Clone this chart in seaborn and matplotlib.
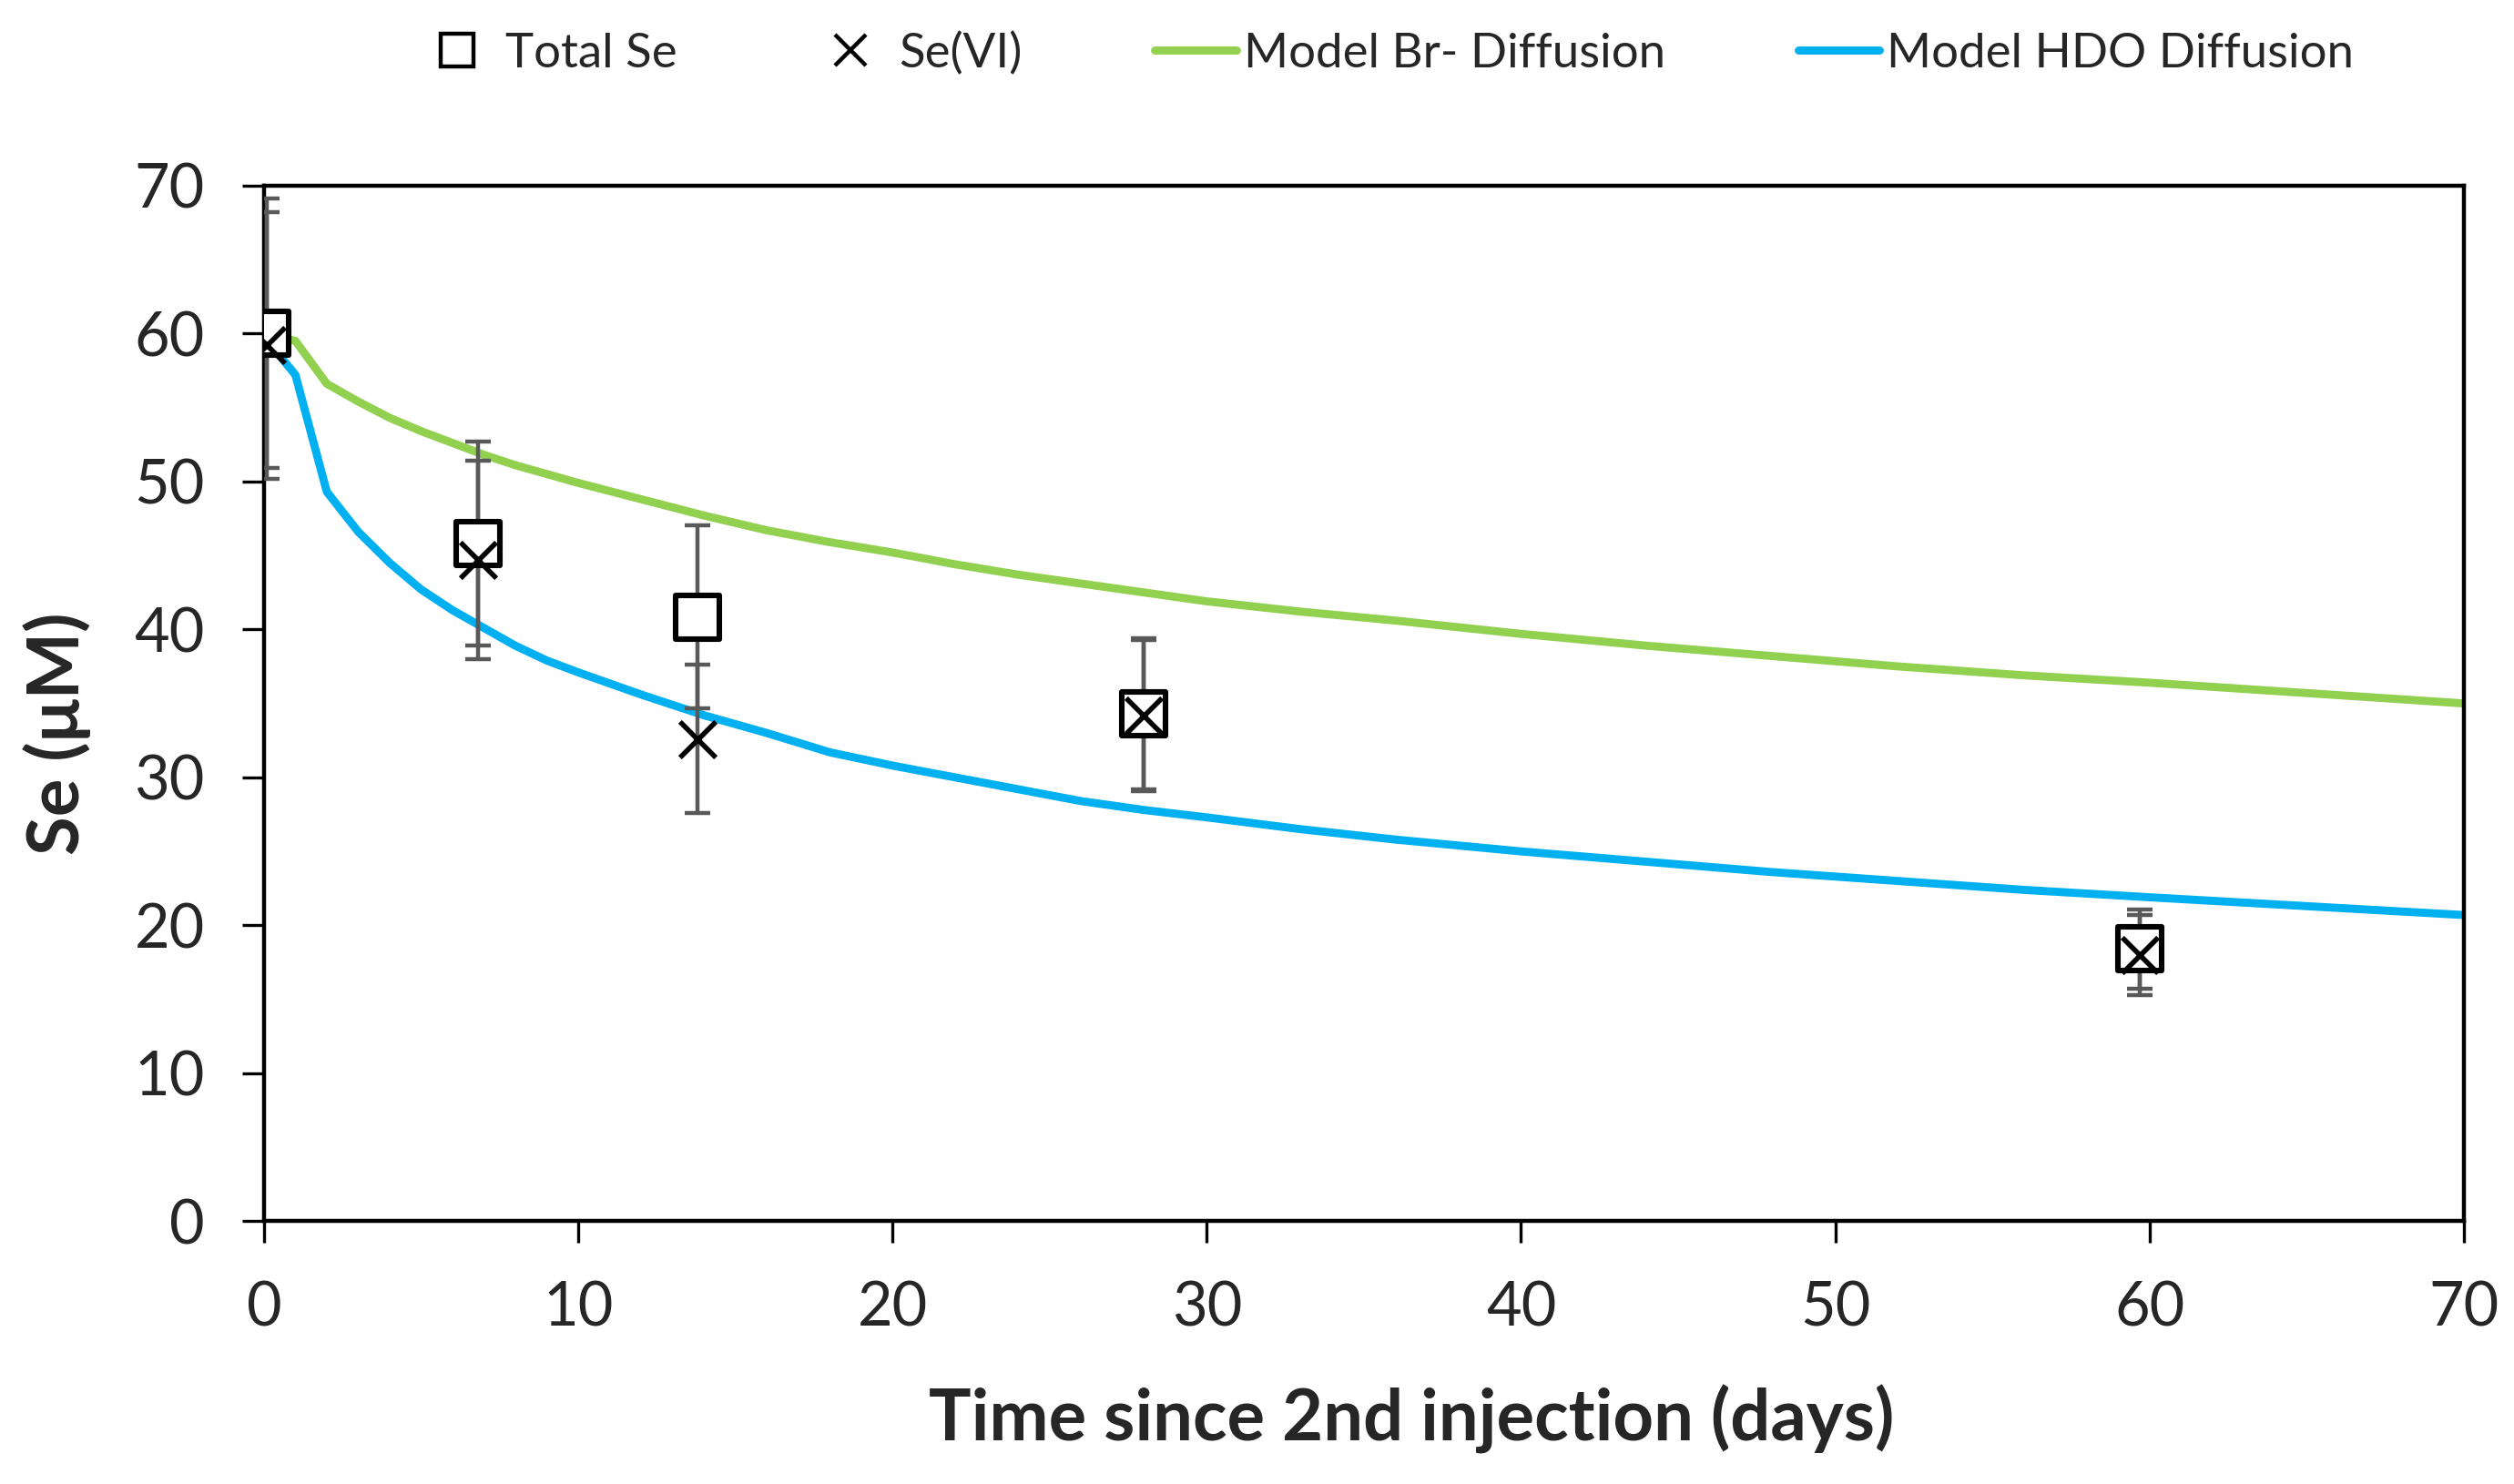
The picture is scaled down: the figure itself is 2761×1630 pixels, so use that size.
import matplotlib
matplotlib.use('Agg')
import matplotlib.pyplot as plt
from matplotlib.lines import Line2D
import seaborn as sns
import pandas as pd

# measured points (days, uM)
days_obs = [0.1, 6.8, 13.8, 28.0, 59.7]
total_se = [60.0, 45.8, 40.85, 34.3, 18.4]
total_se_err = [9.1, 6.9, 6.2, 5.1, 2.7]
se_vi = [59.2, 44.7, 32.6, 34.2, 18.0]
se_vi_err = [9.0, 6.7, 5.0, 5.1, 2.7]

# model curves
days_model = [0, 1, 2, 3, 4, 5, 6, 7, 8, 9, 10, 12, 14, 16, 18, 20, 22, 24, 26, 28,
              30, 33, 36, 40, 44, 48, 52, 56, 60, 65, 70]
model_br = [60.0, 59.5, 56.6, 55.4, 54.3, 53.4, 52.6, 51.8, 51.1, 50.5, 49.9, 48.8, 47.7,
            46.7, 45.9, 45.2, 44.4, 43.7, 43.1, 42.5, 41.9, 41.2, 40.6, 39.7, 38.9, 38.2,
            37.5, 36.9, 36.4, 35.7, 35.0]
model_hdo = [59.8, 57.2, 49.3, 46.6, 44.5, 42.7, 41.3, 40.1, 38.9, 37.9, 37.1, 35.6, 34.2,
             33.0, 31.7, 30.8, 30.0, 29.2, 28.4, 27.8, 27.3, 26.5, 25.8, 25.0, 24.3, 23.6,
             23.0, 22.4, 21.9, 21.3, 20.7]

green = '#92D050'
blue = '#00B0F0'
err_col = '#595959'

sns.set_theme(style='white')
plt.rcParams['font.family'] = ['Lato', 'DejaVu Sans']

fig = plt.figure(figsize=(13.805, 8.15), dpi=200)
ax = fig.add_axes([0.105, 0.177, 0.875, 0.698])

df_model = pd.DataFrame({'day': days_model, 'br': model_br, 'hdo': model_hdo})
sns.lineplot(data=df_model, x='day', y='br', ax=ax, color=green, lw=3.2, zorder=2)
sns.lineplot(data=df_model, x='day', y='hdo', ax=ax, color=blue, lw=3.2, zorder=2)

# error bars
ax.errorbar(days_obs, total_se, yerr=total_se_err, fmt='none', ecolor=err_col,
            elinewidth=1.6, capsize=5, capthick=1.6, zorder=3)
ax.errorbar(days_obs, se_vi, yerr=se_vi_err, fmt='none', ecolor=err_col,
            elinewidth=1.6, capsize=5, capthick=1.6, zorder=3)

df_obs = pd.DataFrame({'day': days_obs, 'tot': total_se, 'vi': se_vi})
sns.scatterplot(data=df_obs, x='day', y='tot', ax=ax, marker='s', s=300,
                facecolor='white', edgecolor='black', linewidth=2.2, zorder=4)
sns.scatterplot(data=df_obs, x='day', y='vi', ax=ax, marker='x', s=200,
                color='black', linewidth=2, zorder=5)

ax.set_xlim(0, 70)
ax.set_ylim(0, 70)
ax.set_xticks(range(0, 71, 10))
ax.set_yticks(range(0, 71, 10))
ax.tick_params(axis='both', which='major', direction='out', length=8.5, width=1.2,
               color='black', labelsize=24, pad=15, bottom=True, left=True)
for sp in ax.spines.values():
    sp.set_color('black')
    sp.set_linewidth(1.6)

ax.set_xlabel('Time since 2nd injection (days)', fontsize=28, fontweight='bold')
ax.set_ylabel('Se (\u03bcM)', fontsize=28, fontweight='bold')
ax.xaxis.set_label_coords(0.5215, -0.158)
ax.yaxis.set_label_coords(-0.078, 0.471)

handles = [
    Line2D([], [], ls='none', marker='s', markersize=13, markerfacecolor='white',
           markeredgecolor='black', markeredgewidth=1.6),
    Line2D([], [], ls='none', marker='x', markersize=12, color='black', markeredgewidth=1.6),
    Line2D([], [], color=green, lw=3.2),
    Line2D([], [], color=blue, lw=3.2),
]
labels = ['Total Se', 'Se(VI)', 'Model Br- Diffusion', 'Model HDO Diffusion']
fig.legend(handles, labels, loc='center', bbox_to_anchor=(0.551, 0.964), ncol=4,
           frameon=False, fontsize=19, handlelength=1.7, handletextpad=0.15,
           columnspacing=2.76)

fig.savefig('out.png', dpi=200)
